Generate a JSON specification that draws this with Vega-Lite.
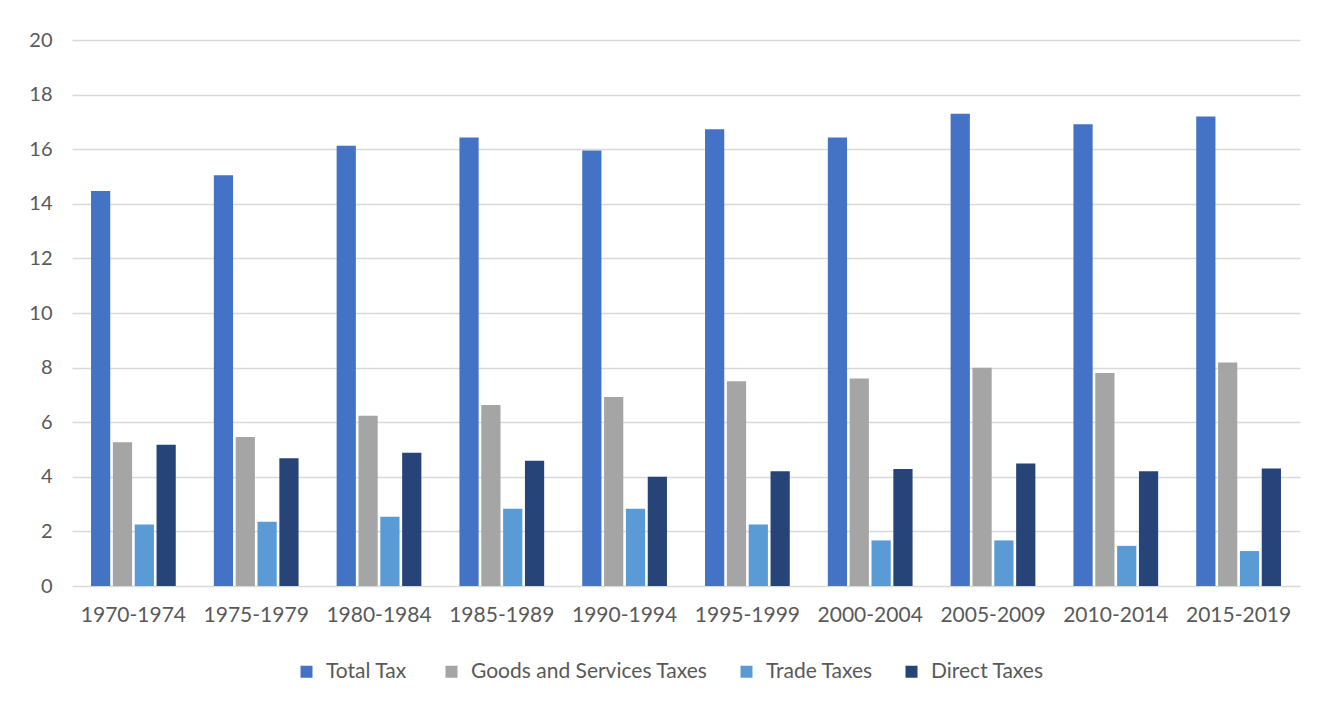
{
  "$schema": "https://vega.github.io/schema/vega-lite/v6.json",
  "autosize": {"type": "none"},
  "padding": {"left": 72, "top": 40, "right": 24, "bottom": 116},
  "width": 1228,
  "height": 546,
  "background": "white",
  "data": {
    "values": [
      {"period": "1970-1974", "series": "Total  Tax", "value": 14.47},
      {"period": "1970-1974", "series": "Goods and Services Taxes", "value": 5.27},
      {"period": "1970-1974", "series": "Trade Taxes", "value": 2.25},
      {"period": "1970-1974", "series": "Direct Taxes", "value": 5.17},
      {"period": "1975-1979", "series": "Total  Tax", "value": 15.05},
      {"period": "1975-1979", "series": "Goods and Services Taxes", "value": 5.46},
      {"period": "1975-1979", "series": "Trade Taxes", "value": 2.35},
      {"period": "1975-1979", "series": "Direct Taxes", "value": 4.68},
      {"period": "1980-1984", "series": "Total  Tax", "value": 16.13},
      {"period": "1980-1984", "series": "Goods and Services Taxes", "value": 6.24},
      {"period": "1980-1984", "series": "Trade Taxes", "value": 2.54},
      {"period": "1980-1984", "series": "Direct Taxes", "value": 4.88},
      {"period": "1985-1989", "series": "Total  Tax", "value": 16.43},
      {"period": "1985-1989", "series": "Goods and Services Taxes", "value": 6.63},
      {"period": "1985-1989", "series": "Trade Taxes", "value": 2.83},
      {"period": "1985-1989", "series": "Direct Taxes", "value": 4.59},
      {"period": "1990-1994", "series": "Total  Tax", "value": 15.95},
      {"period": "1990-1994", "series": "Goods and Services Taxes", "value": 6.92},
      {"period": "1990-1994", "series": "Trade Taxes", "value": 2.83},
      {"period": "1990-1994", "series": "Direct Taxes", "value": 4.0},
      {"period": "1995-1999", "series": "Total  Tax", "value": 16.73},
      {"period": "1995-1999", "series": "Goods and Services Taxes", "value": 7.5},
      {"period": "1995-1999", "series": "Trade Taxes", "value": 2.25},
      {"period": "1995-1999", "series": "Direct Taxes", "value": 4.2},
      {"period": "2000-2004", "series": "Total  Tax", "value": 16.43},
      {"period": "2000-2004", "series": "Goods and Services Taxes", "value": 7.6},
      {"period": "2000-2004", "series": "Trade Taxes", "value": 1.67},
      {"period": "2000-2004", "series": "Direct Taxes", "value": 4.29},
      {"period": "2005-2009", "series": "Total  Tax", "value": 17.3},
      {"period": "2005-2009", "series": "Goods and Services Taxes", "value": 7.99},
      {"period": "2005-2009", "series": "Trade Taxes", "value": 1.67},
      {"period": "2005-2009", "series": "Direct Taxes", "value": 4.49},
      {"period": "2010-2014", "series": "Total  Tax", "value": 16.91},
      {"period": "2010-2014", "series": "Goods and Services Taxes", "value": 7.8},
      {"period": "2010-2014", "series": "Trade Taxes", "value": 1.47},
      {"period": "2010-2014", "series": "Direct Taxes", "value": 4.2},
      {"period": "2015-2019", "series": "Total  Tax", "value": 17.2},
      {"period": "2015-2019", "series": "Goods and Services Taxes", "value": 8.19},
      {"period": "2015-2019", "series": "Trade Taxes", "value": 1.28},
      {"period": "2015-2019", "series": "Direct Taxes", "value": 4.3}
    ]
  },
  "mark": {"type": "bar"},
  "encoding": {
    "x": {
      "field": "period",
      "type": "nominal",
      "sort": null,
      "title": null,
      "scale": {"paddingInner": 0.31, "paddingOuter": 0.155},
      "axis": {
        "labelAngle": 0,
        "ticks": false,
        "domain": false,
        "labelPadding": 18,
        "labelFont": "Lato",
        "labelFontSize": 21,
        "labelColor": "#595959"
      }
    },
    "xOffset": {
      "field": "series",
      "type": "nominal",
      "sort": ["Total  Tax", "Goods and Services Taxes", "Trade Taxes", "Direct Taxes"],
      "scale": {"paddingInner": 0.12, "paddingOuter": 0}
    },
    "y": {
      "field": "value",
      "type": "quantitative",
      "title": null,
      "scale": {"domain": [0, 20], "nice": false},
      "axis": {
        "values": [0, 2, 4, 6, 8, 10, 12, 14, 16, 18, 20],
        "ticks": false,
        "domain": false,
        "grid": true,
        "gridColor": "#D9D9D9",
        "gridWidth": 1.6,
        "labelPadding": 20,
        "labelFont": "Lato",
        "labelFontSize": 20,
        "labelColor": "#595959"
      }
    },
    "color": {
      "field": "series",
      "type": "nominal",
      "sort": ["Total  Tax", "Goods and Services Taxes", "Trade Taxes", "Direct Taxes"],
      "scale": {
        "domain": ["Total  Tax", "Goods and Services Taxes", "Trade Taxes", "Direct Taxes"],
        "range": ["#4472C4", "#A5A5A5", "#5B9BD5", "#264478"]
      },
      "legend": {
        "title": null,
        "orient": "none",
        "legendX": 224,
        "legendY": 621,
        "direction": "horizontal",
        "symbolType": "square",
        "symbolSize": 144,
        "symbolStrokeWidth": 0,
        "labelFont": "Lato",
        "labelFontSize": 21,
        "labelColor": "#595959",
        "labelOffset": 9,
        "columnPadding": 28,
        "labelLimit": 400
      }
    }
  },
  "config": {
    "view": {"stroke": null}
  }
}
